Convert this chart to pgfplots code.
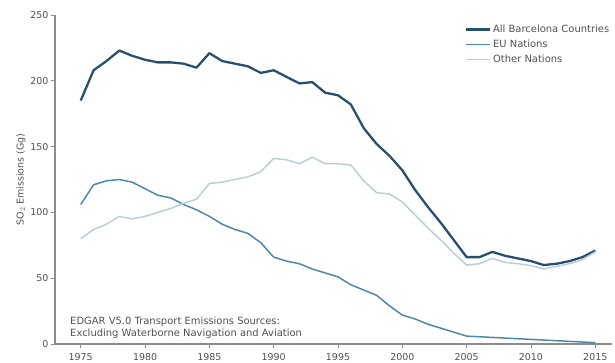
\documentclass[border=0pt]{standalone}
\usepackage{fontspec}
\setmainfont{DejaVu Sans}
\usepackage{pgfplots}
\pgfplotsset{compat=1.18}
\usepackage{pgfplotstable}

\definecolor{allc}{HTML}{27506F}
\definecolor{euc}{HTML}{4C88AA}
\definecolor{othc}{HTML}{BCCDD8}
\definecolor{spine}{HTML}{8C8C8C}
\definecolor{txt}{HTML}{505050}

% SO2 emissions from transport (Gg), by country group
\pgfplotstableread{
year total eu other
1975 185 106 80
1976 208 121 87
1977 215 124 91
1978 223 125 97
1979 219 123 95
1980 216 118 97
1981 214 113 100
1982 214 111 103
1983 213 106 107
1984 210 102 110
1985 221 97 122
1986 215 91 123
1987 213 87 125
1988 211 84 127
1989 206 77 131
1990 208 66 141
1991 203 63 140
1992 198 61 137
1993 199 57 142
1994 191 54 137
1995 189 51 137
1996 182 45 136
1997 164 41 124
1998 152 37 115
1999 143 29 114
2000 132 22 108
2001 117 19 98
2002 104 15 88
2003 92 12 79
2004 79 9 69
2005 66 6 60
2006 66 5.5 61
2007 70 5 65
2008 67 4.5 62
2009 65 4 61
2010 63 3.5 59.5
2011 60 3 57
2012 61 2.5 59
2013 63 2 61
2014 66 1.5 64
2015 71 1 70
}\emissions

\begin{document}
\begin{tikzpicture}
\begin{axis}[
  name=ax,
  scale only axis,
  width=557bp, height=329bp,
  xmin=1973, xmax=2016.3,
  ymin=0, ymax=250,
  axis lines=left,
  axis line style={-, spine, line width=1.1pt},
  xtick={1975,1980,...,2015},
  ytick={0,50,...,250},
  tick align=outside,
  major tick length=4bp,
  tick style={spine, line width=0.9pt},
  /pgf/number format/1000 sep={},
  /pgf/number format/assume math mode=true,
  ticklabel style={font=\fontsize{9.5}{11}\selectfont, text=txt},
  yticklabel style={xshift=1bp},
  xticklabel style={yshift=-1.5bp},
  ylabel={SO$_2$ Emissions (Gg)},
  ylabel style={font=\fontsize{9.5}{11}\selectfont, text=txt, yshift=-2bp},
  legend style={at={(rel axis cs:0.73,0.982)}, anchor=north west,
    draw=none, fill=none, font=\fontsize{10}{12}\selectfont, text=txt,
    row sep=2bp},
  legend cell align=left,
  legend image code/.code={\draw[#1] (0bp,0bp) -- (24bp,0bp);},
]
\addplot[allc, line width=2.3pt, line join=round] table[x=year, y=total] {\emissions};
\addlegendentry{All Barcelona Countries}
\addplot[euc, line width=1.5pt, line join=round] table[x=year, y=eu] {\emissions};
\addlegendentry{EU Nations}
\addplot[othc, line width=1.5pt, line join=round] table[x=year, y=other] {\emissions};
\addlegendentry{Other Nations}
\node[anchor=south west, align=left, font=\fontsize{10}{12.5}\selectfont, text=txt, inner sep=0pt]
  at (rel axis cs:0.027,0.015)
  {EDGAR V5.0 Transport Emissions Sources:\\Excluding Waterborne Navigation and Aviation};
\end{axis}
\pgfresetboundingbox
\path ([shift={(-55bp,-19bp)}]ax.south west) rectangle ([shift={(3bp,15bp)}]ax.north east);
\end{tikzpicture}
\end{document}
